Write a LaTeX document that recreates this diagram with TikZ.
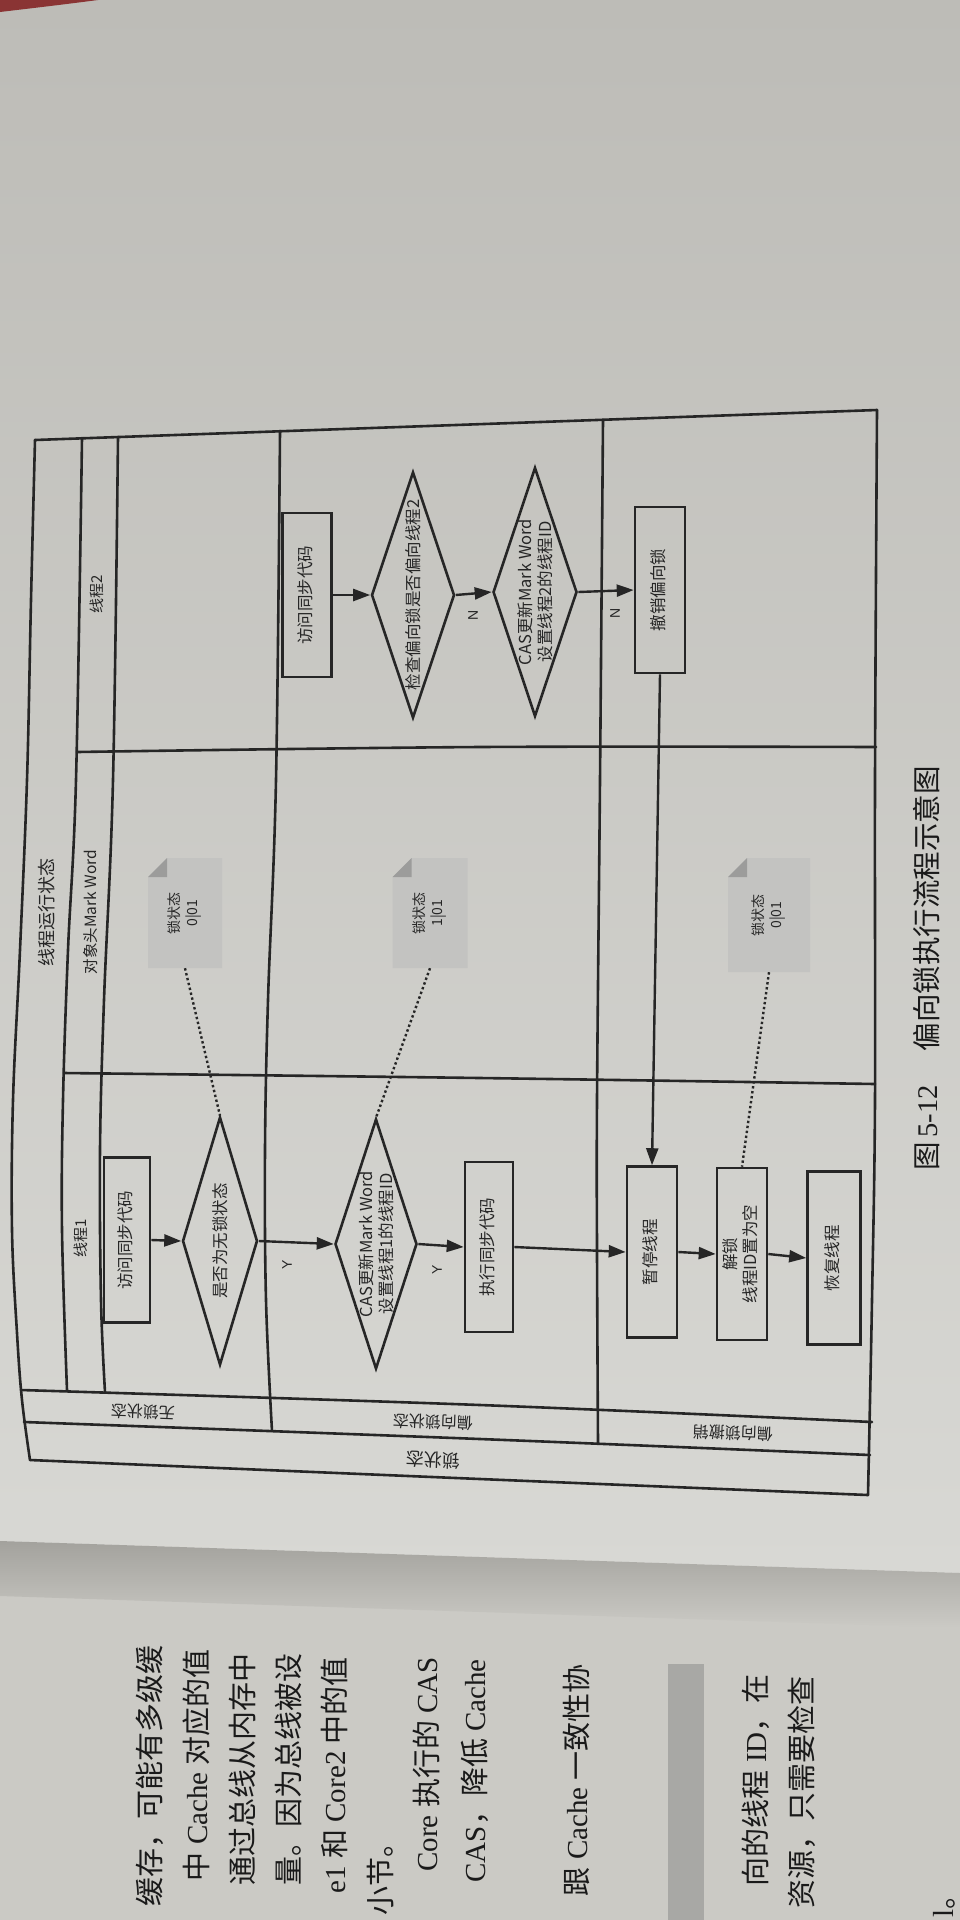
\documentclass[tikz,border=0pt]{standalone}
\usepackage{graphicx}
\usepackage{fontspec}
\setmainfont{Liberation Serif}
\newfontfamily\cjk{Noto Sans CJK SC}
\newfontfamily\dsans{Liberation Sans}
\usetikzlibrary{arrows.meta,shapes.geometric,calc}
\definecolor{ink}{HTML}{262626}
\definecolor{bodyink}{HTML}{1A1A1A}
\definecolor{bgtop}{HTML}{BDBCB7}
\definecolor{bgbot}{HTML}{D8D8D4}
\definecolor{gutter}{HTML}{A3A29D}
\definecolor{lowpage}{HTML}{CBCAC5}
\definecolor{notefill}{HTML}{C3C3C1}
\definecolor{foldfill}{HTML}{9C9C9B}
\definecolor{barc}{HTML}{A8A8A5}
\definecolor{redc}{HTML}{8A3434}
\newcommand\vtxt[1]{\rotatebox{90}{\begin{tabular}{@{}c@{}}#1\end{tabular}}}
\tikzset{
  frame/.style={draw=ink, line width=2.6pt, line join=round, line cap=round},
  procbox/.style={draw=ink, line width=2.6pt, rectangle, inner sep=0pt, text=ink,
    font=\cjk\fontsize{16.5}{20}\selectfont},
  decision/.style={draw=ink, line width=2.6pt, diamond, inner sep=0pt},
  vt/.style={rotate=90, inner sep=0pt, text=ink, align=center,
    font=\cjk\fontsize{16.5}{20}\selectfont},
  notebox/.style={rectangle, inner sep=0pt, text=ink,
    font=\cjk\fontsize{14}{18}\selectfont,
    path picture={
      \fill[notefill] (path picture bounding box.south west) -- (path picture bounding box.south east)
        -- (path picture bounding box.north east) -- ([xshift=19pt]path picture bounding box.north west)
        -- ([yshift=-19pt]path picture bounding box.north west) -- cycle;
      \fill[foldfill] ([xshift=19pt]path picture bounding box.north west)
        -- ([yshift=-19pt]path picture bounding box.north west)
        -- ([xshift=19pt,yshift=-19pt]path picture bounding box.north west) -- cycle;}},
  flow/.style={draw=ink, line width=2.4pt, -{Triangle[length=17pt,width=12pt]}},
  dotlink/.style={draw=ink, line width=2.4pt, dash pattern=on 2.4pt off 2.6pt},
  collbl/.style={rotate=178, inner sep=0pt, text=ink, font=\cjk\fontsize{16}{16}\selectfont},
  yn/.style={rotate=90, inner sep=0pt, text=ink, font=\dsans\fontsize{14}{14}\selectfont},
  bodyt/.style={rotate=90, anchor=east, inner sep=0pt, text=bodyink, font=\fontsize{29}{29}\selectfont},
}
\begin{document}
\begin{tikzpicture}[x=1pt,y=-1pt]
\useasboundingbox (0,0) rectangle (960,1920);
% ---------- photo background ----------
\shade[top color=bgtop, bottom color=bgbot] (0,0) -- (960,0) -- (960,1573) -- (0,1541) -- cycle;
\fill[lowpage] (0,1541) -- (960,1573) -- (960,1920) -- (0,1920) -- cycle;
\shade[top color=gutter, bottom color=lowpage] (0,1541) -- (960,1573) -- (960,1628) -- (0,1596) -- cycle;
\fill[redc] (0,0) -- (98,0) .. controls (60,5) and (25,9) .. (0,12) -- cycle;

% ---------- swimlane frame ----------
\draw[frame] (35,440) -- (877,410);
\draw[frame] plot[smooth, tension=0.6] coordinates {(35,440) (31,600) (27,780) (20,950) (13,1100) (12,1230) (17,1333) (22,1400) (30,1460)};
\draw[frame] plot[smooth, tension=0.6] coordinates {(877,410) (875,780) (875,1100) (872,1300) (868,1495)};
\draw[frame] plot[smooth, tension=0.6] coordinates {(30,1460) (480,1479) (868,1495)};
\draw[frame] plot[smooth, tension=0.6] coordinates {(21,1390) (480,1405) (872,1422)};
\draw[frame] plot[smooth, tension=0.6] coordinates {(24,1422) (480,1439) (870,1455)};
\draw[frame] plot[smooth, tension=0.6] coordinates {(82,438) (76,780) (68,950) (63,1100) (62,1230) (67,1390)};
\draw[frame] plot[smooth, tension=0.6] coordinates {(118,437) (113,780) (104,1000) (100,1150) (101,1300) (105,1392)};
\draw[frame] plot[smooth, tension=0.6] coordinates {(280,431) (276,780) (268,1000) (265,1150) (266,1300) (272,1431)};
\draw[frame] plot[smooth, tension=0.6] coordinates {(603,420) (600,780) (597,1100) (597,1250) (598,1443)};
\draw[frame] plot[smooth, tension=0.6] coordinates {(77,752) (480,747) (876,747)};
\draw[frame] plot[smooth, tension=0.6] coordinates {(64,1073) (480,1078) (875,1084)};

% ---------- lane headers ----------
\node[vt, font=\cjk\fontsize{18}{18}\selectfont] (pool) at (47,912) {线程运行状态};
\node[vt, font=\cjk\fontsize{15.5}{15.5}\selectfont] (lanemw) at (91,912) {对象头Mark Word};
\node[vt, font=\cjk\fontsize{15}{15}\selectfont] (lane2) at (97,594) {线程2};
\node[vt, font=\cjk\fontsize{15}{15}\selectfont] (lane1) at (81,1238) {线程1};
\node[collbl] (st1) at (143,1412) {无锁状态};
\node[collbl] (st2) at (433,1422) {偏向锁状态};
\node[collbl] (st3) at (733,1433) {偏向锁撤销};
\node[collbl, font=\cjk\fontsize{18}{18}\selectfont] (stall) at (433,1460) {锁状态};

% ---------- thread 1 ----------
\node[procbox, minimum width=46pt, minimum height=165pt] (t1acc) at (127,1240) {\vtxt{访问同步代码}};
\node[decision, minimum width=75pt, minimum height=248pt] (d1) at (220,1241) {};
\node[vt] (d1t) at (d1) {是否为无锁状态};
\node[decision, minimum width=82pt, minimum height=250pt] (cas1) at (376,1244) {};
\node[vt] (cas1t) at (cas1) {CAS更新Mark Word\\设置线程1的线程ID};
\node[procbox, minimum width=48pt, minimum height=170pt] (exec) at (489,1247) {\vtxt{执行同步代码}};
\node[procbox, minimum width=50pt, minimum height=171pt] (pause) at (652,1252) {\vtxt{暂停线程}};
\node[procbox, minimum width=50pt, minimum height=172pt] (unlock) at (742,1254) {\vtxt{解锁\\线程ID置为空}};
\node[procbox, minimum width=53pt, minimum height=173pt] (resume) at (834,1258) {\vtxt{恢复线程}};

% ---------- thread 2 ----------
\node[procbox, minimum width=49pt, minimum height=164pt] (t2acc) at (307,595) {\vtxt{访问同步代码}};
\node[decision, minimum width=83pt, minimum height=246pt] (d2) at (413,595) {};
\node[vt] (d2t) at (d2) {检查偏向锁是否偏向线程2};
\node[decision, minimum width=84pt, minimum height=249pt] (cas2) at (535,592) {};
\node[vt] (cas2t) at (cas2) {CAS更新Mark Word\\设置线程2的线程ID};
\node[procbox, minimum width=50pt, minimum height=166pt] (revoke) at (660,590) {\vtxt{撤销偏向锁}};

% ---------- mark word notes ----------
\node[notebox, minimum width=74pt, minimum height=110pt] (n1) at (185,913) {\vtxt{锁状态\\0|01}};
\node[notebox, minimum width=75pt, minimum height=110pt] (n2) at (430,913) {\vtxt{锁状态\\1|01}};
\node[notebox, minimum width=82pt, minimum height=114pt] (n3) at (769,915) {\vtxt{锁状态\\0|01}};

% ---------- connectors ----------
\draw[flow] (t1acc.east) -- (d1.west);
\draw[flow] (d1.east) -- (cas1.west);
\draw[flow] (cas1.east) -- (exec.west);
\draw[flow] (exec.east) -- (pause.west);
\draw[flow] (pause.east) -- (unlock.west);
\draw[flow] (unlock.east) -- (resume.west);
\draw[flow] (t2acc.east) -- (d2.west);
\draw[flow] (d2.east) -- (cas2.west);
\draw[flow] (cas2.east) -- (revoke.west);
\draw[flow] (revoke.south) -- (pause.north);
\draw[dotlink] (n1.south) -- (d1.north);
\draw[dotlink] (n2.south) -- (cas1.north);
\draw[dotlink] (n3.south) -- (unlock.north);
\node[yn] (y1) at (287,1265) {Y};
\node[yn] (y2) at (437,1270) {Y};
\node[yn] (nn1) at (473,615) {N};
\node[yn] (nn2) at (615,613) {N};

% ---------- caption ----------
\node[rotate=90, anchor=west, inner sep=0pt, text=bodyink, font=\fontsize{28.5}{28.5}\selectfont] (cap) at (927,1171)
  {{\cjk 图}\,5-12\hspace{34pt}{\cjk 偏向锁执行流程示意图}};

% ---------- facing page text ----------
\node[bodyt] (b1) at (150,1645) {\cjk 缓存，可能有多级缓};
\node[bodyt] (b2) at (196,1649) {{\cjk 中} Cache {\cjk 对应的值}};
\node[bodyt] (b3) at (242,1653) {\cjk 通过总线从内存中};
\node[bodyt] (b4) at (288,1653) {\cjk 量。因为总线被设};
\node[bodyt] (b5) at (334,1657) {e1 {\cjk 和} Core2 {\cjk 中的值}};
\node[bodyt] (b6) at (380,1828) {\cjk 小节。};
\node[bodyt] (b7) at (426,1657) {Core {\cjk 执行的} CAS};
\node[bodyt] (b8) at (475,1659) {CAS{\cjk ，降低} Cache};
\node[bodyt] (b10) at (576,1664) {{\cjk 跟} Cache {\cjk 一致性协}};
\fill[barc] (668,1664) rectangle (704,1920);
\node[bodyt] (b12) at (756,1674) {{\cjk 向的线程} ID{\cjk ，在}};
\node[bodyt] (b13) at (802,1676) {\cjk 资源，只需要检查};
\node[bodyt] (b14) at (944,1880) {l{\cjk 。}};
\end{tikzpicture}
\end{document}
